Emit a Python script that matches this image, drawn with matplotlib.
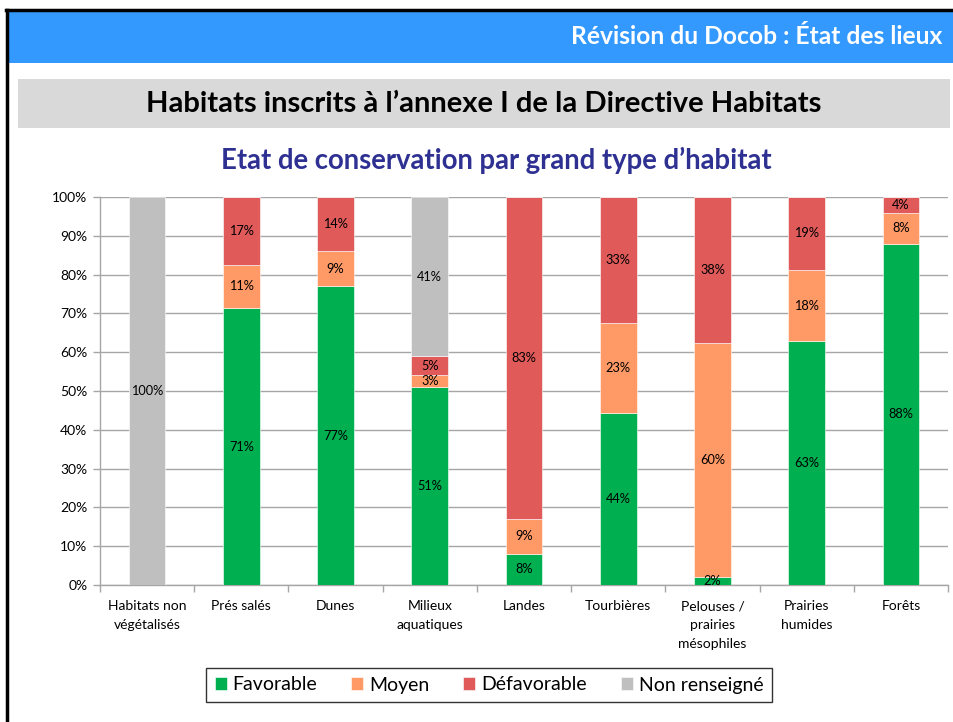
import matplotlib
matplotlib.use("Agg")
import matplotlib.pyplot as plt
from matplotlib.patches import Rectangle
import numpy as np

plt.rcParams['font.family'] = ['Lato', 'DejaVu Sans']

categories = ["Habitats non\nvégétalisés", "Prés salés", "Dunes", "Milieux\naquatiques",
              "Landes", "Tourbières", "Pelouses /\nprairies\nmésophiles", "Prairies\nhumides", "Forêts"]
favorable = [0, 71.3, 77.0, 51.0, 8.0, 44.4, 2.0, 62.8, 88.0]
moyen = [0, 11.3, 9.0, 3.0, 9.0, 23.0, 60.4, 18.4, 8.0]
defavorable = [0, 17.4, 14.0, 5.0, 83.0, 32.6, 37.6, 18.8, 4.0]
non_renseigne = [100.0, 0, 0, 41.0, 0, 0, 0, 0, 0]
series_names = ["Favorable", "Moyen", "Défavorable", "Non renseigné"]
colors = ["#00B050", "#FF9966", "#E05A5A", "#BFBFBF"]

W, H = 954, 722
fig = plt.figure(figsize=(W / 100, H / 100), dpi=100)


def rect(x0, y0, x1, y1, **kw):
    fig.add_artist(Rectangle((x0 / W, 1 - y1 / H), (x1 - x0) / W, (y1 - y0) / H,
                             transform=fig.transFigure, **kw))


# header band & frame
rect(8, 10, 954, 63, facecolor="#3399FF", edgecolor="none")
rect(18, 79, 950, 128, facecolor="#D9D9D9", edgecolor="none")
fig.add_artist(plt.Line2D([6 / W, 1], [1 - 10 / H, 1 - 10 / H], color="black", lw=2.5,
                          transform=fig.transFigure))
fig.add_artist(plt.Line2D([7 / W, 7 / W], [0, 1 - 10 / H], color="black", lw=2.5,
                          transform=fig.transFigure))

fig.text(942 / W, 1 - 37 / H, "Révision du Docob : État des lieux", color="white",
         fontsize=17.7, fontweight="bold", ha="right", va="center")
fig.text(484 / W, 1 - 104 / H, "Habitats inscrits à l’annexe I de la Directive Habitats",
         color="black", fontsize=21, fontweight="bold", ha="center", va="center")
fig.text(496 / W, 1 - 160 / H, "Etat de conservation par grand type d’habitat",
         color="#2E3192", fontsize=19.8, fontweight="bold", ha="center", va="center")

ax = fig.add_axes([100 / W, 1 - 585 / H, 848 / W, 388 / H])
x = np.arange(len(categories))
width = 0.39
bottom = np.zeros(len(categories))
for vals, name, col in zip([favorable, moyen, defavorable, non_renseigne], series_names, colors):
    vals = np.array(vals, dtype=float)
    bars = ax.bar(x, vals, width, bottom=bottom, color=col, label=name, zorder=3,
                  edgecolor="white", linewidth=0.4)
    for xi, v, b in zip(x, vals, bottom):
        if v > 0:
            ax.text(xi, b + v / 2, f"{v:.0f}%", ha="center", va="center", fontsize=9.2,
                    color="black", zorder=4)
    bottom += vals

ax.set_xlim(-0.5, len(categories) - 0.5)
ax.set_ylim(0, 100)
ax.set_yticks(np.arange(0, 101, 10))
ax.set_yticklabels([f"{v}%" for v in range(0, 101, 10)], fontsize=10)
ax.set_xticks(x)
ax.set_xticklabels(categories, fontsize=10, va="top", linespacing=1.7)
ax.tick_params(axis="x", which="major", length=0, pad=11)
ax.set_xticks(np.arange(-0.5, len(categories), 1), minor=True)
ax.tick_params(axis="x", which="minor", length=5, color="#A6A6A6", width=1)
ax.tick_params(axis="y", length=5, color="#A6A6A6", width=1, pad=4)
ax.yaxis.grid(True, color="#A6A6A6", linewidth=1, zorder=0)
ax.set_axisbelow(True)
for s in ["top", "right"]:
    ax.spines[s].set_visible(False)
for s in ["left", "bottom"]:
    ax.spines[s].set_color("#A6A6A6")
    ax.spines[s].set_linewidth(1)

handles, labels = ax.get_legend_handles_labels()
leg = fig.legend(handles, labels, loc="center", bbox_to_anchor=(489 / W, 1 - 685 / H), ncol=4,
                 fontsize=14, frameon=True, fancybox=False, edgecolor="black",
                 handlelength=0.62, handleheight=0.62, handletextpad=0.3, columnspacing=1.75,
                 borderpad=0.42, borderaxespad=0)
leg.get_frame().set_linewidth(1)

fig.savefig("out.png", dpi=100)
